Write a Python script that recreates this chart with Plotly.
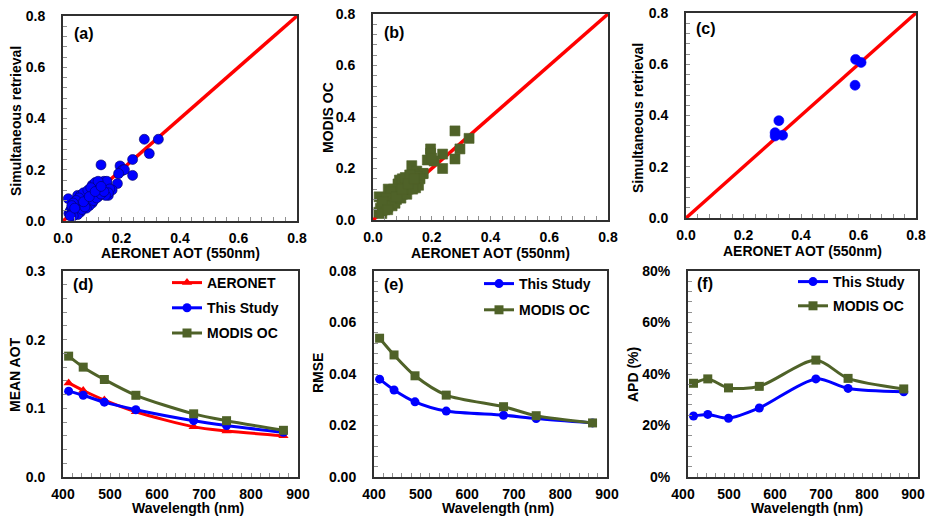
import plotly.graph_objects as go

W, H = 928, 520

# ---------------- data ----------------
# (a) AERONET vs simultaneous retrieval
aeronet_a = [0.018, 0.05, 0.13, 0.195, 0.20, 0.205, 0.238, 0.238, 0.186, 0.168, 0.155, 0.278, 0.326, 0.295, 0.21, 0.19,
             0.02, 0.025, 0.03, 0.03, 0.035, 0.04, 0.04, 0.045, 0.05, 0.05, 0.055, 0.06, 0.06, 0.065, 0.07, 0.07,
             0.075, 0.08, 0.08, 0.085, 0.09, 0.09, 0.095, 0.10, 0.10, 0.105, 0.11, 0.11, 0.115, 0.12, 0.12, 0.125,
             0.13, 0.13, 0.135, 0.14, 0.14, 0.15, 0.15, 0.16, 0.155, 0.145, 0.12, 0.10, 0.09, 0.08, 0.06, 0.05,
             0.035, 0.025, 0.06, 0.07, 0.055, 0.045, 0.035, 0.03, 0.10, 0.11, 0.12, 0.085, 0.095, 0.065, 0.075,
             0.105, 0.115, 0.13, 0.14, 0.04, 0.07, 0.09, 0.11, 0.13]
sim_a = [0.087, 0.10, 0.219, 0.215, 0.195, 0.20, 0.24, 0.178, 0.146, 0.121, 0.10, 0.319, 0.319, 0.263, 0.20, 0.185,
         0.03, 0.04, 0.025, 0.05, 0.035, 0.03, 0.06, 0.045, 0.04, 0.07, 0.055, 0.05, 0.08, 0.065, 0.06, 0.09,
         0.075, 0.07, 0.10, 0.085, 0.08, 0.11, 0.095, 0.09, 0.12, 0.10, 0.10, 0.13, 0.12, 0.11, 0.14, 0.13,
         0.12, 0.15, 0.14, 0.13, 0.155, 0.14, 0.155, 0.125, 0.11, 0.10, 0.095, 0.07, 0.06, 0.05, 0.035, 0.025,
         0.02, 0.02, 0.10, 0.11, 0.09, 0.08, 0.07, 0.06, 0.14, 0.15, 0.155, 0.12, 0.13, 0.045, 0.055,
         0.08, 0.09, 0.105, 0.115, 0.05, 0.075, 0.095, 0.115, 0.135]

# (b) AERONET vs MODIS OC
aeronet_b = [0.021, 0.052, 0.132, 0.149, 0.169, 0.279, 0.327, 0.296, 0.279, 0.237, 0.237, 0.196, 0.196, 0.185, 0.208,
             0.171, 0.20,
             0.02, 0.025, 0.03, 0.03, 0.035, 0.04, 0.04, 0.045, 0.05, 0.05, 0.055, 0.06, 0.06, 0.065, 0.07, 0.07,
             0.075, 0.08, 0.08, 0.085, 0.09, 0.09, 0.095, 0.10, 0.10, 0.105, 0.11, 0.11, 0.115, 0.12, 0.12, 0.125,
             0.13, 0.13, 0.135, 0.14, 0.14, 0.15, 0.15, 0.16, 0.155, 0.145, 0.09, 0.085, 0.07, 0.06, 0.045, 0.035,
             0.10, 0.11, 0.125, 0.065, 0.075, 0.095, 0.115, 0.135, 0.03, 0.05, 0.08, 0.10, 0.12, 0.14]
modis_b = [0.09, 0.12, 0.211, 0.19, 0.18, 0.346, 0.317, 0.276, 0.237, 0.256, 0.20, 0.276, 0.259, 0.233, 0.229,
           0.181, 0.24,
           0.03, 0.045, 0.035, 0.06, 0.05, 0.04, 0.07, 0.055, 0.05, 0.08, 0.065, 0.06, 0.09, 0.075, 0.07, 0.10,
           0.085, 0.08, 0.11, 0.095, 0.09, 0.13, 0.105, 0.10, 0.14, 0.115, 0.11, 0.15, 0.125, 0.12, 0.16, 0.14,
           0.13, 0.17, 0.15, 0.14, 0.175, 0.15, 0.17, 0.16, 0.135, 0.125, 0.155, 0.14, 0.12, 0.11, 0.085, 0.07,
           0.16, 0.165, 0.175, 0.055, 0.065, 0.085, 0.10, 0.12, 0.025, 0.04, 0.09, 0.12, 0.14, 0.16]

# (c) AERONET vs simultaneous retrieval (high AOT)
aeronet_c = [0.323, 0.31, 0.31, 0.336, 0.59, 0.609, 0.588]
sim_c = [0.38, 0.333, 0.32, 0.323, 0.619, 0.607, 0.518]

one_to_one = [0.0, 0.8]

# (d)-(f) spectral statistics
wavelength = [412, 443, 488, 555, 678, 748, 869]
mean_aeronet = [0.137, 0.126, 0.112, 0.095, 0.073, 0.067, 0.060]
mean_study = [0.125, 0.119, 0.109, 0.098, 0.082, 0.075, 0.065]
mean_modis = [0.176, 0.160, 0.142, 0.119, 0.092, 0.082, 0.068]
rmse_study = [0.038, 0.0338, 0.0292, 0.0256, 0.024, 0.0227, 0.021]
rmse_modis = [0.0539, 0.0474, 0.0393, 0.0318, 0.0273, 0.0238, 0.021]
apd_study = [23.7, 24.3, 22.8, 26.8, 38.1, 34.4, 33.1]
apd_modis = [36.4, 38.1, 34.6, 35.2, 45.4, 38.3, 34.2]

# ---------------- styles ----------------
RED = "#ff0000"
BLUE = "#0000ff"
GREEN = "#4f6228"
FONT = "Liberation Sans, Arial, sans-serif"


def px_x(x):
    return x / W


def px_y(y):
    return 1 - y / H


fig = go.Figure()

# panel boxes in screen pixels: (left, right, top, bottom)
boxes = {
    1: (63, 297, 16, 221),
    2: (373, 608, 14, 220),
    3: (686, 916, 13, 218),
    4: (63, 298, 271, 477),
    5: (374, 607, 271, 477),
    6: (688, 918, 271, 477),
}

# scatter panels
for i, (xs, ys, color, symbol, edge) in {
    1: (aeronet_a, sim_a, BLUE, "circle", "#000060"),
    2: (aeronet_b, modis_b, GREEN, "square", GREEN),
    3: (aeronet_c, sim_c, BLUE, "circle", BLUE),
}.items():
    xa = "x" if i == 1 else f"x{i}"
    ya = "y" if i == 1 else f"y{i}"
    fig.add_trace(go.Scatter(x=one_to_one, y=one_to_one, mode="lines", line=dict(color=RED, width=3.5),
                             xaxis=xa, yaxis=ya, showlegend=False))
    fig.add_trace(go.Scatter(x=xs, y=ys, mode="markers",
                             marker=dict(color=color, symbol=symbol, size=10,
                                         line=dict(color=edge, width=0.6)),
                             xaxis=xa, yaxis=ya, showlegend=False))

# line panels
def line_trace(y, name, color, symbol, xa, ya, legend, group):
    return go.Scatter(x=wavelength, y=y, name=name, mode="lines+markers",
                      line=dict(color=color, width=3, shape="spline", smoothing=0.8),
                      marker=dict(color=color, symbol=symbol, size=9),
                      xaxis=xa, yaxis=ya, legend=legend, legendgroup=group)

fig.add_trace(line_trace(mean_aeronet, "AERONET", RED, "triangle-up", "x4", "y4", "legend", "d1"))
fig.add_trace(line_trace(mean_study, "This Study", BLUE, "circle", "x4", "y4", "legend", "d2"))
fig.add_trace(line_trace(mean_modis, "MODIS OC", GREEN, "square", "x4", "y4", "legend", "d3"))
fig.add_trace(line_trace(rmse_study, "This Study", BLUE, "circle", "x5", "y5", "legend2", "e1"))
fig.add_trace(line_trace(rmse_modis, "MODIS OC", GREEN, "square", "x5", "y5", "legend2", "e2"))
fig.add_trace(line_trace(apd_study, "This Study", BLUE, "circle", "x6", "y6", "legend3", "f1"))
fig.add_trace(line_trace(apd_modis, "MODIS OC", GREEN, "square", "x6", "y6", "legend3", "f2"))

tickfont = dict(family=FONT, size=14, color="black", weight="bold")
titlefont = dict(family=FONT, size=14, color="black", weight="bold")

axis_specs = {
    1: dict(xr=[0, 0.8], xd=0.2, xm=0.04, xf=".1f", yr=[0, 0.8], yd=0.2, ym=0.04, yf=".1f"),
    2: dict(xr=[0, 0.8], xd=0.2, xm=0.04, xf=".1f", yr=[0, 0.8], yd=0.2, ym=0.04, yf=".1f"),
    3: dict(xr=[0, 0.8], xd=0.2, xm=0.04, xf=".1f", yr=[0, 0.8], yd=0.2, ym=0.04, yf=".1f"),
    4: dict(xr=[400, 900], xd=100, xm=20, xf="d", yr=[0, 0.3], yd=0.1, ym=0.02, yf=".1f"),
    5: dict(xr=[400, 900], xd=100, xm=20, xf="d", yr=[0, 0.08], yd=0.02, ym=0.004, yf=".2f"),
    6: dict(xr=[400, 900], xd=100, xm=20, xf="d", yr=[0, 80], yd=20, ym=4, yf="d"),
}

layout = dict(width=W, height=H, margin=dict(l=0, r=0, t=0, b=0, autoexpand=False),
              paper_bgcolor="white", plot_bgcolor="white", showlegend=True)

for i, s in axis_specs.items():
    l, r, t, b = boxes[i]
    xk = "xaxis" if i == 1 else f"xaxis{i}"
    yk = "yaxis" if i == 1 else f"yaxis{i}"
    xa = "x" if i == 1 else f"x{i}"
    ya = "y" if i == 1 else f"y{i}"
    layout[xk] = dict(domain=[px_x(l), px_x(r)], anchor=ya, range=s["xr"], dtick=s["xd"], tick0=0,
                      tickformat=s["xf"], showgrid=False, zeroline=False, automargin=False,
                      showline=True, mirror=True, linecolor="#303030", linewidth=2,
                      ticks="inside", ticklen=4, tickcolor="#909090",
                      minor=dict(ticks="inside", dtick=s["xm"], ticklen=4, tickcolor="#909090", showgrid=False),
                      tickfont=tickfont, ticklabelstandoff=3, ticklabeloverflow="allow",
                      ticklabelshift=-5 if i == 6 else 0)
    layout[yk] = dict(domain=[px_y(b), px_y(t)], anchor=xa, range=s["yr"], dtick=s["yd"], tick0=0,
                      tickformat=s["yf"], showgrid=False, zeroline=False, automargin=False,
                      showline=True, mirror=True, linecolor="#303030", linewidth=2,
                      ticks="inside", ticklen=4, tickcolor="#909090",
                      minor=dict(ticks="inside", dtick=s["ym"], ticklen=4, tickcolor="#909090", showgrid=False),
                      tickfont=tickfont, ticklabelstandoff=13, ticklabeloverflow="allow",
                      ticksuffix="%" if i == 6 else "")

legfont = dict(family=FONT, size=14, color="black", weight="bold")
layout["legend"] = dict(x=px_x(167), y=px_y(267), xanchor="left", yanchor="top", font=legfont,
                        bgcolor="rgba(0,0,0,0)", tracegroupgap=4, itemwidth=30)
layout["legend2"] = dict(x=px_x(479), y=px_y(268), xanchor="left", yanchor="top", font=legfont,
                         bgcolor="rgba(0,0,0,0)", tracegroupgap=5, itemwidth=30)
layout["legend3"] = dict(x=px_x(793), y=px_y(266), xanchor="left", yanchor="top", font=legfont,
                         bgcolor="rgba(0,0,0,0)", tracegroupgap=3, itemwidth=30)

annotations = []
# panel labels
for t, x, y in [("(a)", 72, 33), ("(b)", 382, 32), ("(c)", 694, 28),
                ("(d)", 71, 284), ("(e)", 382, 284), ("(f)", 695, 283)]:
    annotations.append(dict(text=t, x=px_x(x), y=px_y(y), xref="paper", yref="paper",
                            xanchor="left", yanchor="middle", showarrow=False,
                            font=dict(family=FONT, size=16, color="black", weight="bold")))
# x-axis titles
for t, x, y in [("AERONET AOT (550nm)", 180, 253), ("AERONET AOT (550nm)", 490, 253),
                ("AERONET AOT (550nm)", 802, 251), ("Wavelength (nm)", 188, 508),
                ("Wavelength (nm)", 498, 508), ("Wavelength (nm)", 807, 508)]:
    annotations.append(dict(text=t, x=px_x(x), y=px_y(y), xref="paper", yref="paper",
                            xanchor="center", yanchor="middle", showarrow=False, font=titlefont))
# y-axis titles
for t, x, y in [("Simultaneous retrieval", 16, 121), ("MODIS OC", 328, 118),
                ("Simultaneous retrieval", 638, 118), ("MEAN AOT", 15, 375),
                ("RMSE", 318, 373), ("APD (%)", 633, 375)]:
    annotations.append(dict(text=t, x=px_x(x), y=px_y(y), xref="paper", yref="paper", textangle=-90,
                            xanchor="center", yanchor="middle", showarrow=False, font=titlefont))
layout["annotations"] = annotations

fig.update_layout(**layout)
# remove the default 8px page margin so the figure fills the 928x520 window exactly
fig.write_html("out.html", config={"displayModeBar": False},
               post_script="document.body.style.margin='0';document.body.style.overflow='hidden';")
